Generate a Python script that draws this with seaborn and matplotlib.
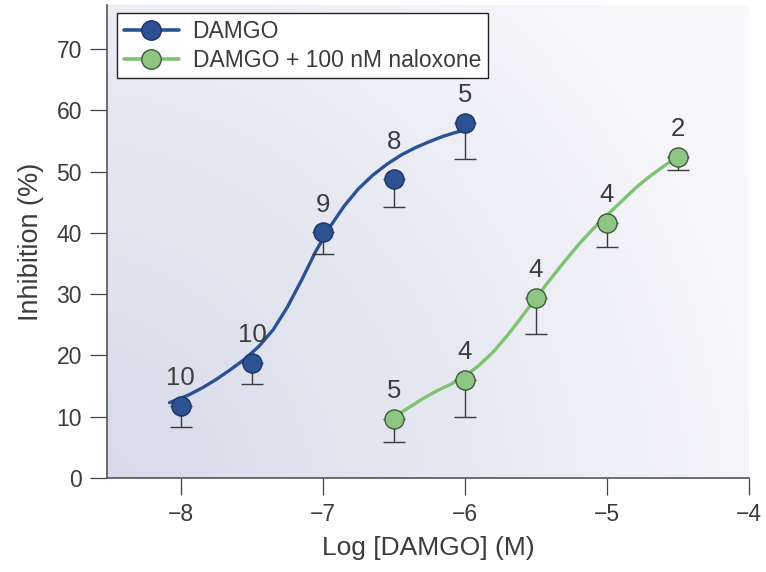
#!/usr/bin/env python3
"""DAMGO concentration-response curves, with and without naloxone."""

import numpy as np
import matplotlib
matplotlib.use('Agg')
import matplotlib.pyplot as plt
from matplotlib.lines import Line2D
from matplotlib.colors import LinearSegmentedColormap
import pandas as pd
import seaborn as sns

# measured points (log M, % inhibition, lower SEM, n)
log_conc_damgo = [-8.0, -7.5, -7.0, -6.5, -6.0]
inhib_damgo = [11.8, 18.8, 40.1, 48.8, 58.0]
sem_damgo = [3.4, 3.4, 3.6, 4.5, 6.0]
n_damgo = [10, 10, 9, 8, 5]

log_conc_nal = [-6.5, -6.0, -5.5, -5.0, -4.5]
inhib_nal = [9.6, 16.0, 29.4, 41.7, 52.4]
sem_nal = [3.7, 6.0, 5.9, 4.0, 2.2]
n_nal = [5, 4, 4, 4, 2]

# fitted curves
fit_x_damgo = [-8.08, -7.95, -7.85, -7.75, -7.65, -7.55, -7.45, -7.35, -7.25,
               -7.15, -7.05, -6.95, -6.85, -6.75, -6.65, -6.55, -6.45, -6.35,
               -6.25, -6.15, -6.05, -6.0]
fit_y_damgo = [12.3, 13.5, 14.7, 16.1, 17.7, 19.4, 21.5, 24.2, 27.9,
               32.3, 37.0, 41.0, 44.4, 47.2, 49.4, 51.2, 52.7, 53.9,
               54.9, 55.8, 56.5, 56.8]
fit_x_nal = [-6.51, -6.4, -6.3, -6.2, -6.1, -6.0, -5.9, -5.8, -5.7, -5.6,
             -5.5, -5.4, -5.3, -5.2, -5.1, -5.0, -4.9, -4.8, -4.7, -4.6, -4.53]
fit_y_nal = [9.9, 11.4, 12.9, 14.2, 15.3, 16.6, 18.4, 20.6, 23.3, 26.3,
             29.4, 32.4, 35.3, 38.1, 40.6, 42.9, 45.1, 47.3, 49.2, 50.9, 52.0]

x_ticks = [-8, -7, -6, -5, -4]
y_ticks = [0, 10, 20, 30, 40, 50, 60, 70]
series_labels = ['DAMGO', 'DAMGO + 100 nM naloxone']

BLUE = '#2c5293'
BLUE_EDGE = '#1b3563'
GREEN = '#7fc271'
GREEN_FILL = '#8dc683'
GREEN_EDGE = '#3d5a3a'
TEXT = '#3c3c3c'

sns.set_theme(style='ticks')
plt.rcParams['font.family'] = ['Liberation Sans', 'DejaVu Sans']

fig = plt.figure(figsize=(7.66, 5.72), dpi=100)
ax = fig.add_axes([107 / 766, 94 / 572, 642 / 766, 473 / 572])

xlim = (-8.52, -4.0)
ylim = (0, 77.2)

# radial background shading, darkest in the lower-left corner
gx, gy = np.meshgrid(np.linspace(0, 642, 320), np.linspace(0, 473, 240))
r = np.hypot(gx + 60, gy + 40) / 780
bg_cmap = LinearSegmentedColormap.from_list(
    'bg', [(0, '#d4d7e9'), (0.55, '#e7e9f2'), (1, '#f9f9fc')])
ax.imshow(np.clip(r, 0, 1), cmap=bg_cmap, vmin=0, vmax=1, origin='lower',
          extent=(*xlim, *ylim), aspect='auto', zorder=0, interpolation='bilinear')

df_fit = pd.concat([
    pd.DataFrame({'x': fit_x_damgo, 'y': fit_y_damgo, 'series': series_labels[0]}),
    pd.DataFrame({'x': fit_x_nal, 'y': fit_y_nal, 'series': series_labels[1]}),
])
sns.lineplot(data=df_fit, x='x', y='y', hue='series', sort=False, estimator=None,
             palette=[BLUE, GREEN], linewidth=2.4, legend=False, ax=ax, zorder=2)

# one-sided (downward) error bars
for xs, ys, es in [(log_conc_damgo, inhib_damgo, sem_damgo),
                   (log_conc_nal, inhib_nal, sem_nal)]:
    ax.errorbar(xs, ys, yerr=[es, [0] * len(es)], fmt='none', ecolor='#3a3a3a',
                elinewidth=1.0, capsize=8, capthick=1.0, zorder=3)

sns.scatterplot(x=log_conc_damgo, y=inhib_damgo, s=190, color=BLUE,
                edgecolor=BLUE_EDGE, linewidth=1.0, ax=ax, zorder=4)
sns.scatterplot(x=log_conc_nal, y=inhib_nal, s=190, color=GREEN_FILL,
                edgecolor=GREEN_EDGE, linewidth=1.0, ax=ax, zorder=4)

# n above each point
damgo_offsets = [20, 20, 20, 27, 20]
for x, y, n, off in zip(log_conc_damgo, inhib_damgo, n_damgo, damgo_offsets):
    ax.annotate(str(n), (x, y), xytext=(0, off), textcoords='offset points',
                ha='center', va='center', fontsize=18.5, color=TEXT, zorder=5)
for x, y, n in zip(log_conc_nal, inhib_nal, n_nal):
    ax.annotate(str(n), (x, y), xytext=(0, 20), textcoords='offset points',
                ha='center', va='center', fontsize=18.5, color=TEXT, zorder=5)

ax.set_xlim(*xlim)
ax.set_ylim(*ylim)
ax.set_xticks(x_ticks)
ax.set_yticks(y_ticks)
ax.set_xticklabels([f'\u2212{abs(t)}' for t in x_ticks])
ax.tick_params(axis='both', length=12, width=0.9, color='#444444',
               labelsize=16.5, labelcolor=TEXT, pad=6)
ax.set_xlabel('Log [DAMGO] (M)', fontsize=19, color=TEXT, labelpad=7)
ax.set_ylabel('Inhibition (%)', fontsize=19.5, color=TEXT, labelpad=9)
sns.despine(ax=ax)
for side in ['left', 'bottom']:
    ax.spines[side].set_color('#555555')
    ax.spines[side].set_linewidth(1.2)

handles = [
    Line2D([], [], color=BLUE, lw=2.6, marker='o', markersize=14,
           markerfacecolor=BLUE, markeredgecolor=BLUE_EDGE),
    Line2D([], [], color=GREEN, lw=2.6, marker='o', markersize=14,
           markerfacecolor=GREEN_FILL, markeredgecolor=GREEN_EDGE),
]
leg = ax.legend(handles, series_labels, loc='upper left',
                bbox_to_anchor=(10 / 642, 1 - 8 / 473), borderaxespad=0,
                fontsize=16.5, frameon=True, fancybox=False, framealpha=1,
                handlelength=2.4, labelspacing=0.25, borderpad=0.3,
                handletextpad=0.6)
leg.get_frame().set_edgecolor('#222222')
leg.get_frame().set_linewidth(1.0)
for t in leg.get_texts():
    t.set_color(TEXT)

fig.savefig('out.png', dpi=100)
